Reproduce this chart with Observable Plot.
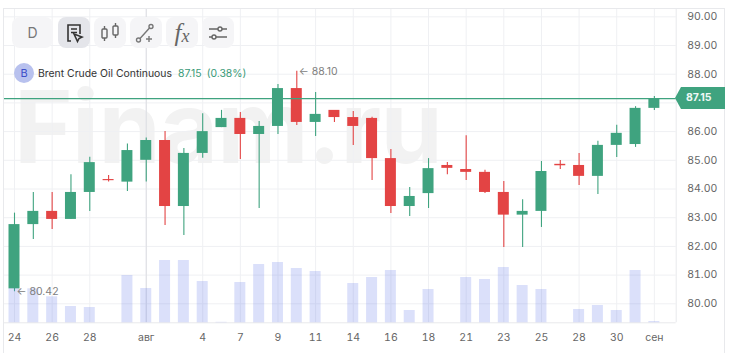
<!DOCTYPE html>
<html>
<head>
<meta charset="utf-8">
<script src="https://cdn.jsdelivr.net/npm/d3@7"></script>
<script src="https://cdn.jsdelivr.net/npm/@observablehq/plot@0.6"></script>
<style>
html,body{margin:0;padding:0;background:#fff;}
#wrap{position:relative;width:730px;height:353px;overflow:hidden;font-family:Inter,sans-serif;}
#wrap>svg{position:absolute;left:0;top:0;background:transparent;}
#frame{position:absolute;left:3px;top:8px;width:720px;height:345px;border:1px solid #e8e9ec;border-bottom:none;}
#mark{position:absolute;left:14px;top:67px;font:700 100px/120px Inter,sans-serif;color:#f2f2f2;white-space:nowrap;letter-spacing:-0.7px;}
.btn{position:absolute;top:17px;height:31px;width:32px;background:#f5f5f7;border-radius:8px;display:flex;align-items:center;justify-content:center;color:#777;font-size:14px;}
.btn svg{display:block;}
#legend{position:absolute;left:14px;top:63px;height:20px;display:flex;align-items:center;font-size:10.4px;color:#333;white-space:nowrap;}
#legend .dot{width:20px;height:20px;border-radius:50%;background:#b8c1ee;color:#3e4fc9;display:flex;align-items:center;justify-content:center;font-size:11px;margin-right:4px;}
#legend .v{color:#3a9a78;}
#tag{position:absolute;left:675px;top:87px;width:50px;height:22px;background:#3fa37f;color:#eef8f4;font-size:10.5px;font-weight:700;line-height:22px;text-indent:11px;clip-path:polygon(0 50%,6px 0,100% 0,100% 100%,6px 100%);}
</style>
</head>
<body>
<div id="wrap"></div>
<script>
const seriesName = "Brent Crude Oil Continuous";
const lastPrice = 87.15;
const lastChange = "(0.38%)";
const watermark = "Finam.ru";
const opens  = [80.52,82.76,83.22,82.94,83.88,84.33,84.24,85.00,85.69,83.39,85.24,86.14,86.46,85.90,86.18,87.50,86.32,86.74,86.49,86.46,85.06,83.39,83.84,84.82,84.68,84.58,83.88,83.09,83.22,84.86,84.82,84.44,85.52,85.55,86.81];
const closes = [82.76,83.22,82.94,83.88,84.92,84.29,85.34,85.69,83.39,85.24,86.00,86.46,85.90,86.18,87.50,86.32,86.60,86.49,86.18,85.06,83.39,83.74,84.71,84.72,84.58,83.88,83.09,83.22,84.61,84.81,84.44,85.52,85.94,86.81,87.15];
const highs  = [83.16,83.88,83.88,84.50,85.11,84.47,85.57,85.78,86.00,85.41,86.62,86.74,86.67,86.35,87.64,88.10,87.36,86.74,86.70,86.50,85.38,84.05,85.06,84.92,85.86,84.65,84.26,83.63,84.96,84.99,85.24,85.66,86.22,86.87,87.22];
const lows   = [80.42,82.24,82.59,82.94,83.22,84.24,83.91,84.24,82.73,82.38,85.07,86.14,85.03,83.32,85.90,86.21,85.83,86.32,85.52,84.30,83.15,83.04,83.32,84.50,84.30,83.84,81.96,81.96,82.66,84.68,84.12,83.81,85.10,85.45,86.74];
const volumes= [34,34,26,16.3,15.3,0,47.3,34.3,62.3,62.3,41.3,0.5,40.3,58.3,60.3,54.3,51.3,0,39.3,45.3,52.3,12.3,33.3,0,45.3,43.3,55.3,37.3,33.3,0,13.3,17.3,12.3,52.3,1.3];
const tickIndex = [0,2,4,7,10,12,14,16,18,20,22,24,26,28,30,32,34];
const tickText  = ["24","26","28","авг","4","7","9","11","14","16","18","21","23","25","28","30","сен"];
const priceTicks = [80,81,82,83,84,85,86,87,88,89,90];
const notes = [{i:15,p:88.10,t:"← 88.10"},{i:0,p:80.42,t:"← 80.42"}];

const GREEN="#3fa37f", RED="#e34444", GRID="#eff0f3";
const half = 0.292, volBase = 79.338, volPerUnit = 28.7;
const rows = opens.map((o,i)=>({i,o,c:closes[i],h:highs[i],l:lows[i],v:volumes[i],col:closes[i]>=o?GREEN:RED}));
const volRows = rows.filter(d=>d.v>0);

const chart = Plot.plot({
  width:730, height:353,
  marginLeft:3, marginRight:54.3, marginTop:8, marginBottom:30.7,
  style:{background:"transparent",fontFamily:"Inter, sans-serif"},
  x:{type:"linear",domain:[-0.5845,35.16]},
  y:{type:"linear",domain:[volBase,90.29]},
  marks:[
    Plot.ruleY(priceTicks,{stroke:GRID}),
    Plot.ruleX(tickIndex,{stroke:GRID}),
    Plot.ruleX([7],{stroke:"#dcdde2"}),
    Plot.ruleX([35.16],{stroke:"#e8e9ec"}),
    Plot.ruleY([volBase],{stroke:"#e8e9ec"}),
    Plot.ruleX(rows,{x:"i",y1:"l",y2:"h",stroke:"col",strokeWidth:1.1}),
    Plot.rect(rows,{x1:d=>d.i-half,x2:d=>d.i+half,y1:"o",y2:"c",fill:"col"}),
    Plot.rect(volRows,{x1:d=>d.i-half,x2:d=>d.i+half,y1:()=>volBase,y2:d=>volBase+d.v/volPerUnit,fill:"rgba(98,121,235,0.23)"}),
    Plot.ruleY([lastPrice],{stroke:GREEN,strokeWidth:1.1}),
    Plot.text(notes,{x:"i",y:"p",text:"t",textAnchor:"start",dx:2,fill:"#808080",fontSize:10.5}),
    Plot.axisY(priceTicks,{anchor:"right",tickSize:0,tickPadding:11,label:null,tickFormat:d3.format(".2f"),fontSize:10.5,color:"#666"}),
    Plot.axisX(tickIndex,{anchor:"bottom",tickSize:0,tickPadding:11,label:null,tickFormat:d=>tickText[tickIndex.indexOf(d)],fontSize:10.5,color:"#666"})
  ]
});

const wrap=document.getElementById("wrap");
wrap.innerHTML=`
<div id="mark">${watermark}</div>
<div id="frame"></div>
<div class="btn" style="left:12px;width:41px">D</div>
<div class="btn" style="left:58px;background:#e4e5ea"><svg width="22" height="22" viewBox="0 0 22 22" fill="none" stroke="#333" stroke-width="1.6"><path d="M8 19H5V3h12v9M8 7h6M8 10.500h6"/><path d="M11 12l8 3-3 1.500-1.500 3z"/></svg></div>
<div class="btn" style="left:94px"><svg width="22" height="22" viewBox="0 0 22 22" fill="none" stroke="#666" stroke-width="1.4"><rect x="3" y="7" width="5" height="9" rx="1"/><path d="M5.500 4v3M5.500 16v3"/><rect x="14" y="4" width="5" height="9" rx="1"/><path d="M16.500 1v3M16.500 13v3"/></svg></div>
<div class="btn" style="left:130px"><svg width="22" height="22" viewBox="0 0 22 22" fill="none" stroke="#777" stroke-width="1.4"><circle cx="3.500" cy="18" r="2"/><circle cx="16" cy="4.500" r="2"/><path d="M5 16.500L14.500 6M14 14v6M11 17h6"/></svg></div>
<div class="btn" style="left:166px;font:italic 25px 'Liberation Serif',serif;color:#666;">f<span style="font-size:18px;margin-top:8px">x</span></div>
<div class="btn" style="left:202px"><svg width="22" height="18" viewBox="0 0 22 18" fill="none" stroke="#666" stroke-width="1.4"><path d="M2 5h9M15 5h5M2 13h3M9 13h11"/><circle cx="13" cy="5" r="2"/><circle cx="7" cy="13" r="2"/></svg></div>
<div id="legend"><span class="dot">B</span><span>${seriesName}</span><span class="v" style="margin-left:6px">${lastPrice.toFixed(2)}</span><span class="v" style="margin-left:5px">${lastChange}</span></div>
`;
wrap.insertBefore(chart,document.getElementById("frame"));
const tag=document.createElement("div");tag.id="tag";tag.textContent=lastPrice.toFixed(2);wrap.appendChild(tag);
</script>
</body>
</html>
